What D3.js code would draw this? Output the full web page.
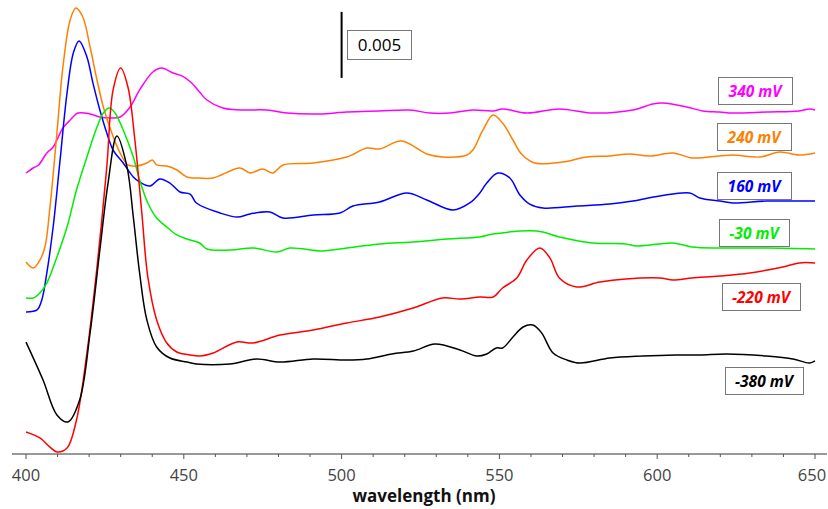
<!DOCTYPE html>
<html><head><meta charset="utf-8">
<script src="https://cdn.jsdelivr.net/npm/d3@7"></script>
<style>body{margin:0;background:#fff}svg{display:block}</style>
</head><body><svg id="c" width="828" height="509"></svg>
<script>
// Data: absorbance offsets in mOD (arbitrary vertical offsets per trace)
const seriesNames = ["340 mV","240 mV","160 mV","-30 mV","-220 mV","-380 mV"];
const xTicks = [400,450,500,550,600,650];
const scaleBarLabel = "0.005";

const wl_p340 = [400,402.3,404,406.6,408.6,411.7,414,416.5,420.3,423.4,426.6,429.8,433,436,440.2,443,446.6,449.4,452.5,455,457.3,462.4,467.8,476.3,482.7,493,501.6,512,521.6,528,534.3,541.6,548,551,558.7,569,579.6,592.3,598.6,601.8,609.4,614.4,619.8,624,634.7,645,648.3,650];
const abs_p340 = [21.20,21.58,21.81,22.72,23.17,24.61,25.21,25.74,25.67,25.44,25.37,25.44,26.20,27.49,28.85,29.15,28.77,28.55,28.02,27.33,26.73,26.12,25.97,25.97,25.74,25.67,25.82,25.90,25.97,25.74,25.74,25.97,25.90,26.05,25.74,26.05,25.74,25.97,26.43,26.50,26.20,25.90,25.82,25.74,25.82,25.90,26.05,25.97];

const wl_p240 = [400,402.3,404.4,406,407.6,409.8,411.7,414,415.8,418,420.3,422.5,424.5,427.2,429.8,432.3,435,438.3,440,441.4,444.6,447.8,451,455,459.3,467.8,471,475,478.2,481.4,491,501.6,508,512,519,527,532,539.7,541.6,544.8,548,551,554.3,557,561.2,570,577.7,585,591.3,597.7,605,611,619.8,624,632.5,638.8,645,650];
const abs_p240 = [14.46,14.01,14.61,15.60,18.63,24.23,29.23,32.79,33.69,33.01,30.74,28.24,26.20,24.23,22.72,21.81,21.73,21.96,22.19,21.81,21.73,21.43,20.90,20.82,20.82,21.58,21.20,21.50,21.20,21.81,21.96,22.41,23.09,23.02,23.62,22.64,22.41,22.56,22.94,24.46,25.59,24.99,23.70,22.64,21.96,22.03,22.41,22.49,22.64,22.49,22.72,22.34,22.49,22.56,22.41,22.79,22.56,22.72];

const wl_p160 = [400,403.5,405,406.6,408.6,410.8,413,415,416.8,419.3,421.2,423.4,425.6,427.6,430.8,434,436,439.3,442.4,445.6,448.8,452,454,461.5,467,471,477.3,481.4,491,499.5,503.6,512,520.7,527,535.3,540.6,543.8,546,549.5,553.3,556.5,559.6,563.8,574.5,585,592.3,600.8,610.3,613.5,619.8,624,634.7,645,650];
const abs_p160 = [10.68,10.83,11.59,13.63,17.11,22.19,27.26,30.29,31.20,29.99,28.02,25.97,24.23,22.94,21.96,20.90,20.52,20.22,20.75,20.44,19.76,19.61,18.93,18.17,17.87,18.10,18.25,17.79,18.02,18.17,18.70,19.01,19.69,19.16,18.40,18.93,19.69,20.44,21.20,20.82,19.54,18.85,18.55,18.70,18.85,19.08,19.46,19.69,19.31,19.08,18.93,19.08,19.08,19.08];

const wl_m30 = [400,402.3,404.4,406.6,409.8,413,416,419.3,422.5,424.5,426.4,428.2,430.8,434,436,438.6,441.4,444.6,447.8,451,455,457.3,464.6,472,479.5,483.6,494,499.5,512,522.7,533.4,543.8,548,561.9,569,579.6,590,593.6,605,611,619.8,635,650];
const abs_m30 = [11.74,11.74,12.12,12.87,14.84,17.11,19.91,22.41,24.68,25.74,26.12,25.74,24.46,22.41,20.67,18.93,17.79,17.11,16.51,16.20,15.90,15.45,15.37,15.52,15.22,15.52,15.30,15.45,15.83,15.98,16.20,16.36,16.58,16.81,16.36,15.90,15.83,15.67,15.90,15.60,15.52,15.52,15.45];

const wl_m220 = [400,404.4,407.6,409.8,413,416,419.3,422.5,425.6,427.6,430,432.3,434.5,436.7,438.6,441.4,444.6,447.8,452,455,459.3,466.8,472,480.5,491,501.6,512,522.7,532,537.5,543.8,548,551,555.5,558.7,562.8,566,569,574.5,581.8,590,600.8,605,611,619.8,629.3,639.8,645,650];
const abs_m220 = [1.59,1.14,0.45,0.08,0.38,2.50,7.57,14.08,21.66,27.49,29.15,27.71,23.70,18.17,13.33,10.07,8.33,7.65,7.42,7.34,7.57,8.40,8.33,8.93,9.31,9.84,10.30,10.98,11.74,11.66,11.81,11.81,12.49,13.25,14.61,15.52,14.77,13.25,12.57,12.95,13.18,13.25,13.10,13.25,13.40,13.63,14.08,14.39,14.39];

const wl_m380 = [400,405.4,409.8,413.3,417,420.3,423.4,426,428.8,432,434,436,438.3,441.4,445.6,451,454,464.6,473,480.5,491,501.6,508,516,522.7,529.6,537.5,542.8,546,549,551,554.3,557.5,560.6,563.4,567,571.4,575.5,585,595.4,606,613.5,622,634.7,643,648.3,650];
const abs_m380 = [8.40,5.53,2.88,2.35,4.01,9.09,15.37,20.44,24.00,21.66,17.87,13.63,10.07,8.03,7.19,6.89,6.74,6.74,7.12,6.89,7.12,7.04,7.12,7.50,7.72,8.25,7.80,7.34,7.50,7.95,7.95,8.78,9.54,9.69,9.09,7.57,7.04,6.81,7.19,7.34,7.42,7.42,7.50,7.34,7.12,6.81,6.97];

const seriesWl = [wl_p340, wl_p240, wl_p160, wl_m30, wl_m220, wl_m380];
const seriesAbs = [abs_p340, abs_p240, abs_p160, abs_m30, abs_m220, abs_m380];
const seriesColors = ["#ff00ff","#ff8000","#0000ff","#00ee00","#ff0000","#000000"];

// Layout
const svg = d3.select("#c");
const x = d3.scaleLinear().domain([400,650]).range([26,815]);
const y = d3.scaleLinear().domain([0,34.3]).range([453,0]);
const axisY = 454;

// traces
const line = d3.line().x(d=>x(d[0])).y(d=>y(d[1])).curve(d3.curveCatmullRom.alpha(0.5));
seriesNames.forEach((n,i)=>{
  const pts = seriesWl[i].map((w,j)=>[w, seriesAbs[i][j]]);
  svg.append("path").attr("d", line(pts)).attr("fill","none")
    .attr("stroke", seriesColors[i]).attr("stroke-width",1.5).attr("stroke-linejoin","round");
});

// x axis
const ax = svg.append("g").attr("transform",`translate(0,${axisY})`);
ax.append("line").attr("x1",12).attr("x2",827).attr("stroke","#333").attr("stroke-width",1);
const minor = d3.range(400,651,10);
ax.selectAll("line.t").data(minor).join("line").attr("class","t")
  .attr("x1",d=>x(d)).attr("x2",d=>x(d)).attr("y1",0).attr("y2",d=>d%50===0?5:3)
  .attr("stroke","#555").attr("stroke-width",1);
ax.selectAll("text").data(xTicks).join("text")
  .attr("x",d=>Math.min(x(d), 812)).attr("y",27).attr("text-anchor","middle")
  .attr("font-family","'Open Sans', sans-serif").attr("font-size",16.5).attr("fill","#444")
  .text(d=>d);
svg.append("text").attr("x",424).attr("y",502).attr("text-anchor","middle")
  .attr("font-family","'Open Sans', sans-serif").attr("font-weight","bold").attr("font-size",17)
  .attr("fill","#111").text("wavelength (nm)");

// scale bar
svg.append("line").attr("x1",x(500)).attr("x2",x(500)).attr("y1",y(33.4)).attr("y2",y(28.4))
  .attr("stroke","#000").attr("stroke-width",2);
svg.append("rect").attr("x",347.5).attr("y",30.5).attr("width",64).attr("height",29)
  .attr("fill","#fff").attr("stroke","#777").attr("stroke-width",1);
svg.append("text").attr("x",379.5).attr("y",51).attr("text-anchor","middle")
  .attr("font-family","'Open Sans', sans-serif").attr("font-size",17).attr("fill","#000").text(scaleBarLabel);

// labels
const boxes = [[718,77,74,27],[717,123,74,27],[717,172,74,27],[719,219,70,27],[722,283,78,27],[725,367,78,27]];
seriesNames.forEach((n,i)=>{
  const b = boxes[i];
  svg.append("rect").attr("x",b[0]+0.5).attr("y",b[1]+0.5).attr("width",b[2]).attr("height",b[3])
    .attr("fill","#fff").attr("stroke","#777").attr("stroke-width",1);
  svg.append("text").attr("x",b[0]+b[2]/2).attr("y",b[1]+19.5).attr("text-anchor","middle")
    .attr("font-family","'Open Sans', sans-serif").attr("font-style","italic").attr("font-weight","bold")
    .attr("font-size",15.5).attr("fill",seriesColors[i]).text(n);
});
</script></body></html>
